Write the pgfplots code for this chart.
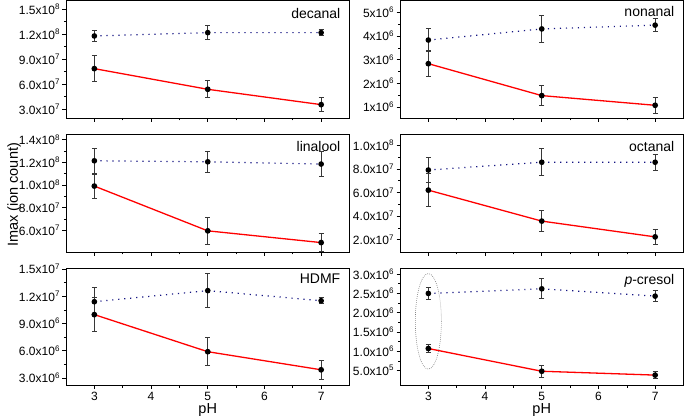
\documentclass[border=0pt]{standalone}
\usepackage{fontspec}
\setmainfont{Liberation Sans}
\usepackage{pgfplots}
\pgfplotsset{compat=1.18}
\definecolor{navy}{RGB}{20,20,130}
\definecolor{errgray}{RGB}{55,55,55}
\newcommand{\sci}[2]{#1x10\textsuperscript{#2}}
\tikzset{pname/.style={anchor=north east, inner sep=0pt, font=\fontsize{14}{16}\selectfont}}
\pgfplotsset{
 panel/.style={scale only axis, width=283.5pt, height=117.5pt,
   xmin=2.5, xmax=7.5, xtick={3,4,5,6,7}, minor x tick num=1, minor y tick num=1,
   tick align=outside, xtick pos=bottom, ytick pos=left,
   major tick length=3.5pt, minor tick length=2pt,
   every tick/.style={black, line width=0.6pt},
   axis line style={line width=0.7pt},
   scaled y ticks=false,
   /pgf/number format/assume math mode=true,
   ticklabel style={font=\fontsize{12}{14}\selectfont},
   yticklabel style={xshift=1pt},
   xlabel style={font=\fontsize{14.5}{17}\selectfont, yshift=4pt},
   anchor=south west},
 blueline/.style={color=navy, line width=1.2pt, dash pattern=on 1.2pt off 4.8pt,
   mark=*, mark size=2.2pt, mark options={solid, black, fill=black},
   error bars/.cd, y dir=both, y explicit,
   error bar style={solid, line width=1pt, color=errgray},
   error mark options={solid, rotate=90, mark size=2.5pt, line width=1pt, color=errgray}},
 redline/.style={color=red, line width=1.3pt, solid,
   mark=*, mark size=2.2pt, mark options={solid, black, fill=black},
   error bars/.cd, y dir=both, y explicit,
   error bar style={solid, line width=1pt, color=errgray},
   error mark options={solid, rotate=90, mark size=2.5pt, line width=1pt, color=errgray}}
}
\begin{document}
\begin{tikzpicture}
\useasboundingbox (0,0) rectangle (684pt,418pt);
% decanal
\begin{axis}[panel, at={(66pt,299.7pt)}, ymin=1.92e7, ymax=1.602e8,
  ytick={3e7,6e7,9e7,1.2e8,1.5e8},
  yticklabels={\sci{3.0}{7},\sci{6.0}{7},\sci{9.0}{7},\sci{1.2}{8},\sci{1.5}{8}},
  xticklabels={}]
\addplot[blueline] coordinates {(3,1.18e8) +- (0,7e6) (5,1.22e8) +- (0,8e6) (7,1.22e8) +- (0,3.4e6)};
\addplot[redline] coordinates {(3,7.88e7) +- (0,1.56e7) (5,5.4e7) +- (0,1.04e7) (7,3.56e7) +- (0,8.6e6)};
\node[pname] at (rel axis cs:1,1) [xshift=-9pt, yshift=-7pt] {decanal};
\end{axis}
% nonanal
\begin{axis}[panel, at={(400pt,299.7pt)}, ymin=0.52e6, ymax=5.49e6,
  ytick={1e6,2e6,3e6,4e6,5e6},
  yticklabels={\sci{1}{6},\sci{2}{6},\sci{3}{6},\sci{4}{6},\sci{5}{6}},
  xticklabels={}]
\addplot[blueline] coordinates {(3,3.83e6) +- (0,0.49e6) (5,4.3e6) +- (0,0.58e6) (7,4.46e6) +- (0,0.27e6)};
\addplot[redline] coordinates {(3,2.83e6) +- (0,0.55e6) (5,1.48e6) +- (0,0.41e6) (7,1.07e6) +- (0,0.35e6)};
\node[pname] at (rel axis cs:1,1) [xshift=-9pt, yshift=-5pt] {nonanal};
\end{axis}
% linalool
\begin{axis}[panel, at={(66pt,165.7pt)}, ymin=4.04e7, ymax=1.444e8,
  ytick={6e7,8e7,1e8,1.2e8,1.4e8},
  yticklabels={\sci{6.0}{7},\sci{8.0}{7},\sci{1.0}{8},\sci{1.2}{8},\sci{1.4}{8}},
  xticklabels={}]
\addplot[blueline] coordinates {(3,1.214e8) +- (0,1.1e7) (5,1.205e8) +- (0,9.2e6) (7,1.185e8) +- (0,1.13e7)};
\addplot[redline] coordinates {(3,9.9e7) +- (0,1.07e7) (5,5.94e7) +- (0,1.2e7) (7,4.9e7) +- (0,7.7e6)};
\node[pname] at (rel axis cs:1,1) [xshift=-9pt, yshift=-6pt] {linalool};
\end{axis}
% octanal
\begin{axis}[panel, at={(400pt,165.7pt)}, ymin=0.92e7, ymax=1.09e8,
  ytick={2e7,4e7,6e7,8e7,1e8},
  yticklabels={\sci{2.0}{7},\sci{4.0}{7},\sci{6.0}{7},\sci{8.0}{7},\sci{1.0}{8}},
  xticklabels={}]
\addplot[blueline] coordinates {(3,7.91e7) +- (0,1.05e7) (5,8.57e7) +- (0,1.13e7) (7,8.57e7) +- (0,6.6e6)};
\addplot[redline] coordinates {(3,6.2e7) +- (0,1.43e7) (5,3.57e7) +- (0,9.1e6) (7,2.23e7) +- (0,6.6e6)};
\node[pname] at (rel axis cs:1,1) [xshift=-9pt, yshift=-6pt] {octanal};
\end{axis}
% HDMF
\begin{axis}[panel, at={(66pt,32.5pt)}, ymin=2.17e6, ymax=1.51e7,
  ytick={3e6,6e6,9e6,1.2e7,1.5e7},
  yticklabels={\sci{3.0}{6},\sci{6.0}{6},\sci{9.0}{6},\sci{1.2}{7},\sci{1.5}{7}},
  xlabel={pH}]
\addplot[blueline] coordinates {(3,1.139e7) +- (0,1.52e6) (5,1.261e7) +- (0,1.88e6) (7,1.15e7) +- (0,0.36e6)};
\addplot[redline] coordinates {(3,9.97e6) +- (0,1.83e6) (5,5.89e6) +- (0,1.56e6) (7,3.9e6) +- (0,1.06e6)};
\node[pname] at (rel axis cs:1,1) [xshift=-9pt, yshift=-6pt] {HDMF};
\end{axis}
% p-cresol
\begin{axis}[panel, at={(400pt,32.5pt)}, ymin=1.1e5, ymax=3.16e6,
  ytick={5e5,1e6,1.5e6,2e6,2.5e6,3e6},
  yticklabels={\sci{5.0}{5},\sci{1.0}{6},\sci{1.5}{6},\sci{2.0}{6},\sci{2.5}{6},\sci{3.0}{6}},
  xlabel={pH}]
\addplot[blueline] coordinates {(3,2.5e6) +- (0,1.6e5) (5,2.62e6) +- (0,2.6e5) (7,2.43e6) +- (0,1.4e5)};
\addplot[redline] coordinates {(3,1.07e6) +- (0,1.1e5) (5,4.8e5) +- (0,1.55e5) (7,3.8e5) +- (0,0.85e5)};
\draw[gray, line width=0.6pt, dash pattern=on 0.8pt off 1.2pt] (axis cs:3,1.775e6) ellipse [x radius=0.23, y radius=1.24e6];
\node[pname] at (rel axis cs:1,1) [xshift=-9pt, yshift=-6pt] {\textit{p}-cresol};
\end{axis}
\node[rotate=90, font=\fontsize{14.5}{17}\selectfont] at (14pt,223pt) {Imax (ion count)};
\end{tikzpicture}
\end{document}
